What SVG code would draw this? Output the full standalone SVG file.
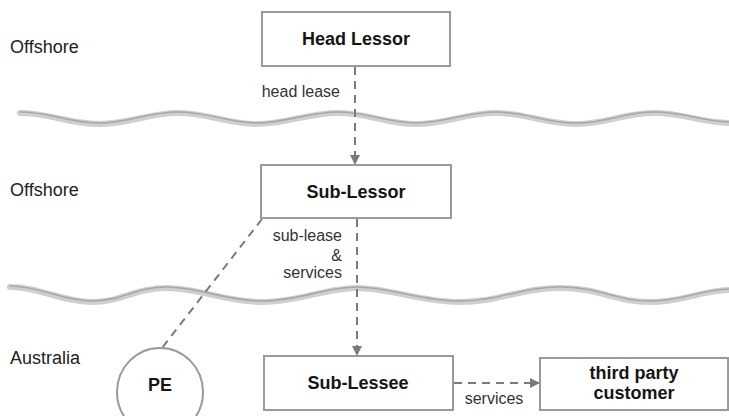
<svg xmlns="http://www.w3.org/2000/svg" width="729" height="416" viewBox="0 0 729 416">
<style>
.box{fill:#fff;stroke:#9a9a9a;stroke-width:2}
.node{font-family:"Liberation Sans",Arial,sans-serif;font-weight:bold;font-size:18px;fill:#151515;text-anchor:middle}
.lbl{font-family:"Liberation Sans",Arial,sans-serif;font-size:18px;fill:#222}
.sm{font-family:"Liberation Sans",Arial,sans-serif;font-size:16px;fill:#333}
.dash{fill:none;stroke:#7a7a7a;stroke-width:2;stroke-dasharray:8 6}
.wave1{fill:none;stroke:#cfcfcf;stroke-width:6;stroke-linecap:round}
.wave2{fill:none;stroke:#a8a8a8;stroke-width:1.6;stroke-linecap:round}
</style>
<defs>
<marker id="ah" markerWidth="10" markerHeight="10" refX="9" refY="5" orient="auto" markerUnits="userSpaceOnUse">
<path d="M0,0 L10,5 L0,10 Z" fill="#7a7a7a"/>
</marker>
</defs>
<g id="borders">
<path class="wave1" d="M20 113 C50 113 69 124 99 124 S148 113 178 113 S228 124 257 124 S307 113 338 113 S386 124 416 124 S465 113 496 113 S544 124 576 124 S623 113 654 113 S702 123 732 123"/>
<path class="wave2" d="M20 112 C50 112 69 123 99 123 S148 112 178 112 S228 123 257 123 S307 112 338 112 S386 123 416 123 S465 112 496 112 S544 123 576 123 S623 112 654 112 S702 122 732 122"/>
<path class="wave1" d="M10 287 C40 287 62 302 92 302 S135 288 167 288 S225 302 262 302 S325 288 357 288 S420 302 460 302 S520 288 560 288 S615 302 650 302 S700 290 732 290"/>
<path class="wave2" d="M10 286 C40 286 62 301 92 301 S135 287 167 287 S225 301 262 301 S325 287 357 287 S420 301 460 301 S520 287 560 287 S615 301 650 301 S700 289 732 289"/>
</g>
<g id="region-labels">
<text class="lbl" x="10" y="53">Offshore</text>
<text class="lbl" x="10" y="196">Offshore</text>
<text class="lbl" x="10" y="364">Australia</text>
</g>
<g id="connectors">
<line class="dash" x1="355" y1="67" x2="355" y2="164" marker-end="url(#ah)"/>
<line class="dash" x1="357" y1="219" x2="357" y2="355" marker-end="url(#ah)"/>
<line class="dash" x1="262" y1="219" x2="162" y2="348"/>
<line class="dash" x1="454" y1="383" x2="539" y2="383" marker-end="url(#ah)"/>
<text class="sm" x="340" y="97" text-anchor="end">head lease</text>
<text class="sm" x="342" y="241" text-anchor="end">sub-lease</text>
<text class="sm" x="342" y="261" text-anchor="end">&amp;</text>
<text class="sm" x="342" y="278" text-anchor="end">services</text>
<text class="sm" x="494" y="404" text-anchor="middle">services</text>
</g>
<g id="head-lessor">
<rect class="box" x="262" y="12" width="188" height="54"/>
<text class="node" x="356" y="45">Head Lessor</text>
</g>
<g id="sub-lessor">
<rect class="box" x="261" y="165" width="190" height="53"/>
<text class="node" x="356" y="198">Sub-Lessor</text>
</g>
<g id="sub-lessee">
<rect class="box" x="264" y="356" width="189" height="54"/>
<text class="node" x="358" y="389">Sub-Lessee</text>
</g>
<g id="third-party">
<rect class="box" x="540" y="358" width="188" height="52"/>
<text class="node" x="634" y="379">third party</text>
<text class="node" x="634" y="399">customer</text>
</g>
<g id="pe">
<ellipse class="box" cx="160" cy="392" rx="43" ry="44"/>
<text class="node" x="160" y="391">PE</text>
</g>
</svg>
